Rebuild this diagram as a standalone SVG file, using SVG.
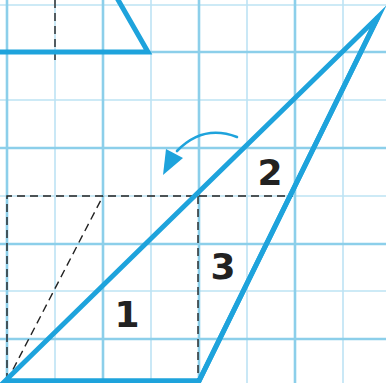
<svg xmlns="http://www.w3.org/2000/svg" width="386" height="383" viewBox="0 0 386 383">
<style>
.minor{stroke:#bde3f4;stroke-width:1.6;fill:none}
.major{stroke:#8ccfea;stroke-width:2.6;fill:none}
.blue{stroke:#1ea3dc;stroke-width:5;fill:none;stroke-linejoin:miter;stroke-miterlimit:20}
.dash{stroke:#222;stroke-width:1.4;fill:none;stroke-dasharray:8 5}
.lbl{font-family:"DejaVu Sans",sans-serif;font-weight:bold;font-size:36px;fill:#222;text-anchor:middle}
</style>
<rect width="386" height="383" fill="#fff"/>
<g id="grid">
<path class="minor" d="M55 0V383M151 0V383M247 0V383M343 0V383M0 5H386M0 100H386M0 196H386M0 291H386"/>
<path class="major" d="M7 0V383M103 0V383M199 0V383M295 0V383M0 52H386M0 148H386M0 244H386M0 339H386"/>
</g>
<g id="connectors">
<path class="dash" d="M55 0V62"/>
<path class="dash" d="M7 381V196H293"/>
<path class="dash" d="M198 196V381"/>
<path class="dash" d="M7 381L103 196"/>
<path d="M237 137Q203 124 177 151" stroke="#1ea3dc" stroke-width="2.6" fill="none" stroke-linecap="round"/>
<polygon points="163,175 166,149 183,158" fill="#1ea3dc"/>
</g>
<g id="top-shape">
<path class="blue" d="M0 52H148L117 -2"/>
</g>
<g id="triangle">
<path class="blue" d="M199 381H5L378 17Z"/>
<path class="blue" d="M5 381H199L378 17"/>
</g>
<g id="label-1"><text class="lbl" x="127" y="327">1</text></g>
<g id="label-2"><text class="lbl" x="270" y="185">2</text></g>
<g id="label-3"><text class="lbl" x="223" y="279">3</text></g>
</svg>
